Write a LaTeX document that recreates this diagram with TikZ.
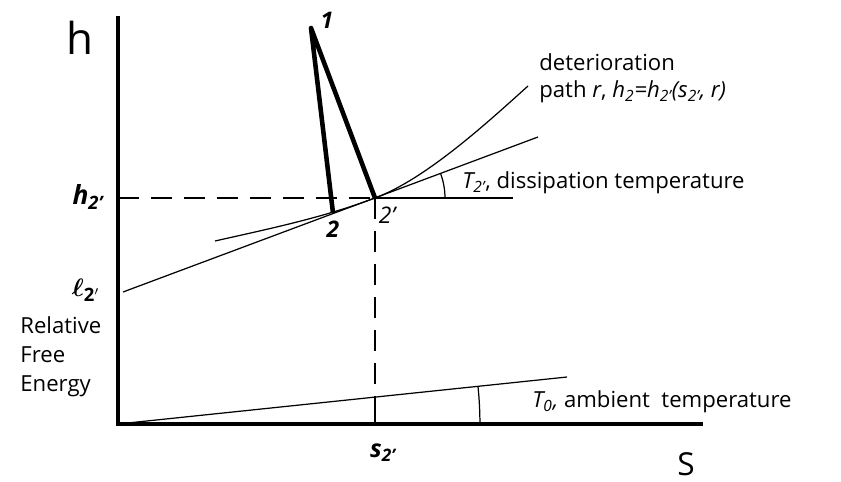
\documentclass[tikz,border=0pt]{standalone}
\usepackage{amsmath}
\usepackage{bm}
\usepackage{fontspec}
\setmainfont{Open Sans}
\usepackage{tikz}
\usetikzlibrary{positioning, calc}

\begin{document}
\begin{tikzpicture}[
  x=0.02cm, y=0.02cm,
  axisline/.style={line width=2.8pt, line cap=rect},
  processline/.style={line width=2.6pt, line join=round},
  thinline/.style={line width=0.7pt},
  guideline/.style={line width=1pt, dash pattern=on 0.42cm off 0.24cm},
  lbl/.style={inner sep=0pt, font=\fontsize{12.6}{14}\selectfont, text=black},
  numlbl/.style={inner sep=0pt, font=\fontsize{13}{15}\selectfont\bfseries\itshape}
]
  \useasboundingbox (0,0) rectangle (841,481);
  % key points
  \coordinate (O) at (118,57);
  \coordinate (top) at (118,463);
  \coordinate (right) at (701,57);
  \coordinate (p1) at (311,453);
  \coordinate (p2) at (333,268);
  \coordinate (p2p) at (375,283);
  \coordinate (hax) at (118,283);
  \coordinate (hend) at (513,283);
  \coordinate (tanA) at (123,189);
  \coordinate (tanB) at (538,344);
  \coordinate (detA) at (215,240);
  \coordinate (detB) at (528,395);
  \coordinate (ambB) at (567,104);
  \coordinate (sAmb) at (375,83.9);
  \coordinate (sax) at (375,57);

  % axes
  \draw[axisline] (top) -- (O) -- (right);

  % reference lines
  \draw[guideline] (hax) -- (p2p);
  \draw[thinline] (p2p) -- (hend);
  \draw[guideline] (p2p) -- (sAmb);
  \draw[thinline] (sAmb) -- (sax);
  \draw[thinline] (tanA) -- (tanB);
  \draw[thinline] (O) -- (ambB);

  % deterioration path
  \draw[thinline] (detA) .. controls (268,252) and (322,263) .. (p2p)
                         .. controls (426,302) and (488,359) .. (detB);

  % angles
  \draw[thinline] ($(O)+(7.24cm,0)$) arc[start angle=0, end angle=6, radius=7.24cm];
  \draw[thinline] ($(p2p)+(1.4cm,0)$) arc[start angle=0, end angle=20.5, radius=1.4cm];

  % process 1-2 and 1-2'
  \draw[processline] (p2) -- (p1) -- (p2p);

  % labels
  \node[inner sep=0pt, font=\fontsize{25}{25}\selectfont] (hlab) at (80,443) {h};
  \node[inner sep=0pt, font=\fontsize{18}{18}\selectfont] (slab) at (686,17) {S};
  \node[numlbl] (n1) at (327,461) {1};
  \node[numlbl] (n2) at (333,252) {2};
  \node[numlbl, font=\fontsize{13}{15}\selectfont\itshape] (n2p) at (387,266) {2'};
  \node[numlbl, font=\fontsize{15}{16}\selectfont\bfseries\itshape] (hlev) at (88,284) {h\textsubscript{2'}};
  \node[numlbl, font=\fontsize{15}{16}\selectfont] (elev) at (86,191) {$\bm{\ell}_{\mathbf{2'}}$};
  \node[numlbl, font=\fontsize{14}{16}\selectfont\bfseries\itshape] (slev) at (383,28) {s\textsubscript{2'}};
  \node[lbl, align=left, anchor=west, font=\fontsize{12.6}{16.5}\selectfont] (rfe) at (20,124) {Relative\\Free\\Energy};
  \node[lbl, anchor=west] (tdis) at (462,298) {\textit{T\textsubscript{2'}}, dissipation temperature};
  \node[lbl, anchor=west] (det1) at (539,419) {deterioration};
  \node[lbl, anchor=west] (det2) at (539,389) {path \textit{r}, \textit{h\textsubscript{2}=h\textsubscript{2'}(s\textsubscript{2'}, r)}};
  \node[lbl, anchor=west] (tamb) at (532,79) {\textit{T\textsubscript{0},} ambient\ \ temperature};
\end{tikzpicture}
\end{document}
